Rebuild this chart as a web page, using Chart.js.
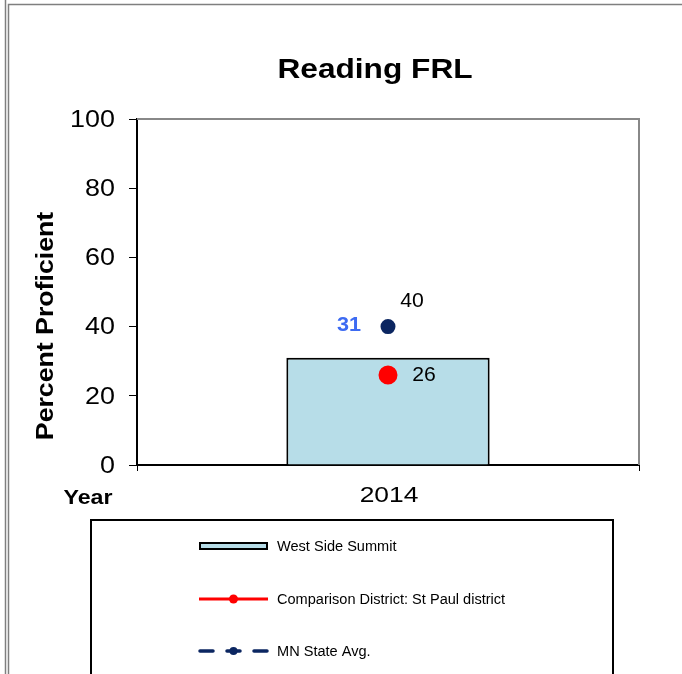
<!DOCTYPE html>
<html>
<head>
<meta charset="utf-8">
<script src="https://cdn.jsdelivr.net/npm/chart.js@4/dist/chart.umd.min.js"></script>
<style>
html,body{margin:0;padding:0;background:#fff;}
#wrap{position:relative;width:682px;height:674px;}
</style>
</head>
<body>
<div id="wrap"><canvas id="c" width="682" height="674"></canvas></div>
<script>
const chartTitle = "Reading FRL";
const yAxisTitle = "Percent Proficient";
const xAxisTitle = "Year";
const categories = ["2014"];
const schoolName = "West Side Summit";
const schoolValues = [31];
const districtName = "Comparison District: St Paul district";
const districtValues = [26];
const stateName = "MN State Avg.";
const stateValues = [40];
const yTicks = [0, 20, 40, 60, 80, 100];

const FONT = "'Liberation Sans', Arial, sans-serif";

function stretchText(ctx, text, x, y, font, sx, align, rot) {
  ctx.save();
  ctx.translate(x, y);
  if (rot) ctx.rotate(rot);
  ctx.scale(sx, 1);
  ctx.font = font;
  ctx.textAlign = align || 'center';
  ctx.textBaseline = 'middle';
  ctx.fillText(text, 0, 0);
  ctx.restore();
}

const decor = {
  id: 'decor',
  beforeDraw(chart) {
    const ctx = chart.ctx;
    ctx.save();
    ctx.fillStyle = '#fff';
    ctx.fillRect(0, 0, chart.width, chart.height);
    ctx.strokeStyle = '#7f7f7f';
    ctx.lineWidth = 1.5;
    ctx.beginPath();
    ctx.moveTo(5.5, 0); ctx.lineTo(5.5, 674);
    ctx.moveTo(8.5, 674); ctx.lineTo(8.5, 4.5); ctx.lineTo(682, 4.5);
    ctx.stroke();
    ctx.restore();
  },
  afterDraw(chart) {
    const ctx = chart.ctx;
    const a = chart.chartArea;
    ctx.save();
    ctx.strokeStyle = '#888';
    ctx.lineWidth = 2;
    ctx.beginPath();
    ctx.moveTo(a.left, a.top); ctx.lineTo(a.right, a.top); ctx.lineTo(a.right, a.bottom);
    ctx.stroke();

    ctx.fillStyle = '#000';
    stretchText(ctx, chartTitle, 375, 70, "bold 28px " + FONT, 1.13, 'center');
    stretchText(ctx, yAxisTitle, 47, 326, "bold 23px " + FONT, 1.16, 'center', -Math.PI / 2);
    stretchText(ctx, xAxisTitle, 88, 498, "bold 20px " + FONT, 1.16, 'center');

    const ys = chart.scales.y, xs = chart.scales.x;
    ys.ticks.forEach(t => {
      stretchText(ctx, String(t.value), 115, ys.getPixelForValue(t.value) + 1.5, "23px " + FONT, 1.17, 'right');
    });
    categories.forEach((c, i) => {
      stretchText(ctx, c, xs.getPixelForValue(i) + 1, 496, "22px " + FONT, 1.2, 'center');
    });

    const barMeta = chart.getDatasetMeta(0);
    const redMeta = chart.getDatasetMeta(1);
    const navyMeta = chart.getDatasetMeta(2);
    ctx.fillStyle = '#3D6BF2';
    barMeta.data.forEach((el, i) => {
      stretchText(ctx, String(schoolValues[i]), el.x - 39, el.y - 33, "bold 21px " + FONT, 1.03, 'center');
    });
    ctx.fillStyle = '#000';
    navyMeta.data.forEach((el, i) => {
      stretchText(ctx, String(stateValues[i]), el.x + 24, el.y - 25, "20px " + FONT, 1.06, 'center');
    });
    redMeta.data.forEach((el, i) => {
      stretchText(ctx, String(districtValues[i]), el.x + 36, el.y, "20px " + FONT, 1.06, 'center');
    });

    ctx.strokeStyle = '#000';
    ctx.lineWidth = 2;
    ctx.beginPath();
    ctx.moveTo(91, 680); ctx.lineTo(91, 520); ctx.lineTo(613, 520); ctx.lineTo(613, 680);
    ctx.stroke();
    const ds = chart.data.datasets;
    const lx = 199, lw = 69, tx = 277;
    const lf = "14px " + FONT;
    let y = 546;
    ctx.fillStyle = ds[0].backgroundColor;
    ctx.fillRect(lx + 1, y - 3, lw - 2, 6);
    ctx.lineWidth = 2;
    ctx.strokeStyle = '#000';
    ctx.strokeRect(lx + 1, y - 3, lw - 2, 6);
    ctx.fillStyle = '#000';
    stretchText(ctx, ds[0].label, tx, y + 1, lf, 1.04, 'left');
    y = 599;
    ctx.strokeStyle = ds[1].borderColor;
    ctx.lineWidth = 3;
    ctx.beginPath(); ctx.moveTo(lx, y); ctx.lineTo(lx + lw, y); ctx.stroke();
    ctx.fillStyle = ds[1].pointBackgroundColor;
    ctx.beginPath(); ctx.arc(lx + lw / 2, y, 4.5, 0, Math.PI * 2); ctx.fill();
    ctx.fillStyle = '#000';
    stretchText(ctx, ds[1].label, tx, y + 1, lf, 1.04, 'left');
    y = 651;
    ctx.strokeStyle = ds[2].borderColor;
    ctx.lineWidth = 3.5;
    ctx.lineCap = 'round';
    ctx.beginPath();
    ctx.moveTo(lx + 1, y); ctx.lineTo(lx + 14, y);
    ctx.moveTo(lx + 28, y); ctx.lineTo(lx + 41, y);
    ctx.moveTo(lx + 55, y); ctx.lineTo(lx + 68, y);
    ctx.stroke();
    ctx.fillStyle = ds[2].pointBackgroundColor;
    ctx.beginPath(); ctx.arc(lx + 34.5, y, 4, 0, Math.PI * 2); ctx.fill();
    ctx.fillStyle = '#000';
    stretchText(ctx, ds[2].label, tx, y + 1, lf, 1.04, 'left');
    ctx.restore();
  }
};

new Chart(document.getElementById('c'), {
  data: {
    labels: categories,
    datasets: [
      {
        type: 'bar', label: schoolName, data: schoolValues,
        backgroundColor: '#B7DDE8', borderColor: '#000', borderWidth: 2,
        barPercentage: 0.405, categoryPercentage: 1, order: 3
      },
      {
        type: 'line', label: districtName, data: districtValues,
        borderColor: '#FF0000', pointBackgroundColor: '#FF0000', pointBorderColor: '#FF0000',
        pointRadius: 8, borderWidth: 3, showLine: false, order: 1
      },
      {
        type: 'line', label: stateName, data: stateValues,
        borderColor: '#0B2661', pointBackgroundColor: '#0B2661', pointBorderColor: '#0B2661',
        pointRadius: 6, borderWidth: 3, borderDash: [10, 8], showLine: false, order: 2
      }
    ]
  },
  options: {
    responsive: false,
    animation: false,
    devicePixelRatio: 1,
    layout: { padding: { left: 0, top: 119, right: 43, bottom: 169 } },
    plugins: { legend: { display: false }, tooltip: { enabled: false }, title: { display: false } },
    scales: {
      x: {
        type: 'category', offset: true,
        grid: { display: true, drawOnChartArea: false, offset: true, color: '#000', tickLength: 6, tickWidth: 1 },
        border: { color: '#000', width: 2 },
        ticks: { display: false },
        afterFit(s) { s.height = 40; }
      },
      y: {
        min: 0, max: 100,
        afterBuildTicks(s) { s.ticks = yTicks.map(v => ({ value: v })); },
        grid: { display: true, drawOnChartArea: false, color: '#000', tickLength: 8, tickWidth: 1 },
        border: { color: '#000', width: 2 },
        ticks: { display: false },
        afterFit(s) { s.width = 137; }
      }
    }
  },
  plugins: [decor]
});
</script>
</body>
</html>
